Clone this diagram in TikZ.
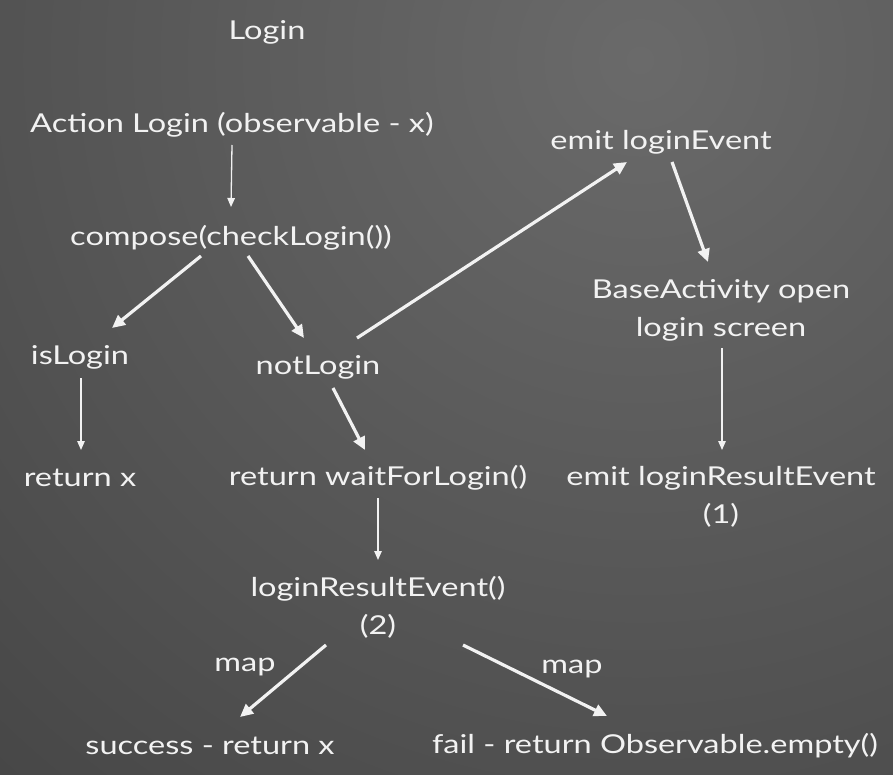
\documentclass[tikz,border=0pt]{standalone}
\usepackage{fontspec}
\setmainfont{Lato}[FakeStretch=1.25]
\usetikzlibrary{arrows.meta}
\definecolor{chalk}{HTML}{F2F2F2}
\definecolor{bginner}{HTML}{6A6A6A}
\definecolor{bgouter}{HTML}{2C2C2C}
\tikzset{
  lbl/.style={text=chalk, font=\fontsize{26}{38}\selectfont, inner sep=0pt, align=center},
  thinarrow/.style={draw=chalk, line width=1.3pt, -{Triangle[length=9pt,width=7.5pt]}},
  thickarrow/.style={draw=chalk, line width=3.2pt, -{Triangle[length=13pt,width=12pt]}}
}
\begin{document}
\begin{tikzpicture}[x=1pt,y=-1pt]
\useasboundingbox (0,0) rectangle (893,775);
\begin{scope}
\clip (0,0) rectangle (893,775);
\fill[bgouter] (0,0) rectangle (893,775);
\shade[inner color=bginner, outer color=bgouter] (640,60) circle (1700);
\end{scope}

\node[lbl] (login) at (267,32) {Login};
\node[lbl] (action) at (232,125) {Action Login (observable - x)};
\node[lbl] (compose) at (231,238) {compose(checkLogin())};
\node[lbl] (islogin) at (80,357) {isLogin};
\node[lbl] (notlogin) at (318,367) {notLogin};
\node[lbl] (retx) at (80,478) {return x};
\node[lbl] (retwait) at (378,478) {return waitForLogin()};
\node[lbl] (lre) at (378,607) {loginResultEvent()\\(2)};
\node[lbl] (success) at (210,746) {success - return x};
\node[lbl] (fail) at (655,746) {fail - return Observable.empty()};
\node[lbl] (emitle) at (661,142) {emit loginEvent};
\node[lbl] (base) at (721,310) {BaseActivity open\\login screen};
\node[lbl] (emitlre) at (721,497) {emit loginResultEvent\\(1)};
\node[lbl] (map1) at (245,667) {map};
\node[lbl] (map2) at (572,669) {map};

\draw[thinarrow] ([shift={(0,20)}]action.center) -- ([shift={(0,-31)}]compose.center);
\draw[thickarrow] ([shift={(-30,18)}]compose.center) -- ([shift={(32,-29)}]islogin.center);
\draw[thickarrow] ([shift={(17,18)}]compose.center) -- ([shift={(-14,-29)}]notlogin.center);
\draw[thickarrow] ([shift={(39,-29)}]notlogin.center) -- ([shift={(-34,20)}]emitle.center);
\draw[thickarrow] ([shift={(11,20)}]emitle.center) -- ([shift={(-13,-48)}]base.center);
\draw[thinarrow] ([shift={(1,38)}]base.center) -- ([shift={(1,-47)}]emitlre.center);
\draw[thinarrow] ([shift={(1,21)}]islogin.center) -- ([shift={(1,-28)}]retx.center);
\draw[thickarrow] ([shift={(15,21)}]notlogin.center) -- ([shift={(-13,-28)}]retwait.center);
\draw[thinarrow] ([shift={(0,20)}]retwait.center) -- ([shift={(0,-47)}]lre.center);
\draw[thickarrow] ([shift={(-52,38)}]lre.center) -- ([shift={(30,-29)}]success.center);
\draw[thickarrow] ([shift={(85,38)}]lre.center) -- ([shift={(-48,-30)}]fail.center);
\end{tikzpicture}
\end{document}
